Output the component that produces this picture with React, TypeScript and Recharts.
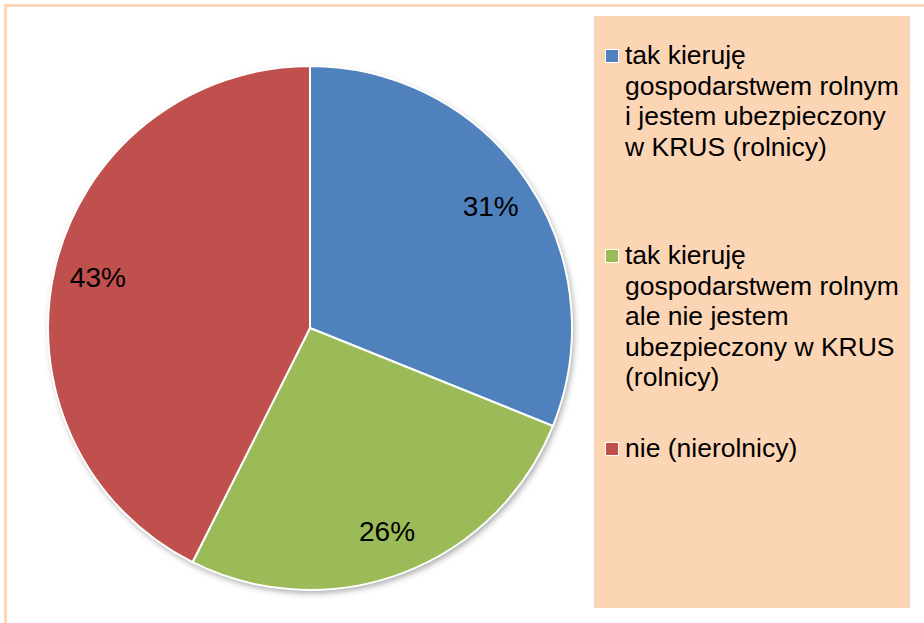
import React from 'react';
import { PieChart, Pie, Cell, Legend } from 'recharts';

const categories = [
  'tak kieruję\ngospodarstwem rolnym\ni jestem ubezpieczony\nw KRUS (rolnicy)',
  'tak kieruję\ngospodarstwem rolnym\nale nie jestem\nubezpieczony w KRUS\n(rolnicy)',
  'nie (nierolnicy)',
];
const shares = [31.1, 26.3, 42.6];
const colors = ['#4F81BD', '#9BBB59', '#C0504D'];

const data = categories.map((name, i) => ({ name, value: shares[i] }));

const FONT = '"Liberation Sans", Arial, sans-serif';
const RAD = Math.PI / 180;

const renderLabel = (props: any) => {
  const { cx, cy, midAngle, percent } = props;
  const r = 218;
  const x = cx + r * Math.cos(-midAngle * RAD);
  const y = cy + r * Math.sin(-midAngle * RAD);
  return (
    <text x={x} y={y} textAnchor="middle" dominantBaseline="central" fill="#000" fontSize={28} fontFamily={FONT}>
      {Math.round(percent * 100)}%
    </text>
  );
};

const legendTops = [24, 224, 417];

const renderLegend = () => (
  <div style={{ position: 'relative', width: 316, height: 592, background: '#FCD5B5' }}>
    {categories.map((name, i) => (
      <div key={i} style={{ position: 'absolute', left: 0, top: legendTops[i], width: 316 }}>
        <div
          style={{
            position: 'absolute',
            left: 11,
            top: 9,
            width: 12,
            height: 12,
            background: colors[i],
            border: '1px solid #fff',
          }}
        />
        <div
          style={{
            position: 'absolute',
            left: 31,
            top: 0,
            whiteSpace: 'pre',
            fontFamily: FONT,
            fontSize: 26.5,
            lineHeight: '30.5px',
            color: '#000',
          }}
        >
          {name}
        </div>
      </div>
    ))}
  </div>
);

export default function App() {
  return (
    <div style={{ position: 'relative', width: 924, height: 623, overflow: 'hidden', background: '#fff' }}>
      <style>{'body{margin:0} .pie-shadow{filter:blur(3px);}'}</style>
      <div
        style={{
          position: 'absolute',
          left: 4,
          top: 4,
          width: 960,
          height: 660,
          border: '3px solid #FCD6B8',
          boxSizing: 'border-box',
        }}
      />
      <div style={{ position: 'absolute', left: 0, top: 0 }}>
        <PieChart width={924} height={623} margin={{ top: 0, right: 0, bottom: 0, left: 0 }}>
          <Pie
            data={data}
            dataKey="value"
            nameKey="name"
            cx={312}
            cy={331}
            outerRadius={262}
            startAngle={90}
            endAngle={-270}
            stroke="none"
            label={false}
            labelLine={false}
            legendType="none"
            isAnimationActive={false}
          >
            {data.map((d, i) => (
              <Cell key={i} fill="#000" fillOpacity={0.35} className="pie-shadow" />
            ))}
          </Pie>
          <Pie
            data={data}
            dataKey="value"
            nameKey="name"
            cx={310}
            cy={328}
            outerRadius={262}
            startAngle={90}
            endAngle={-270}
            stroke="#fff"
            strokeWidth={2}
            label={renderLabel}
            labelLine={false}
            isAnimationActive={false}
          >
            {data.map((d, i) => (
              <Cell key={i} fill={colors[i]} />
            ))}
          </Pie>
          <Legend
            layout="vertical"
            align="right"
            verticalAlign="middle"
            content={renderLegend}
            wrapperStyle={{ position: 'absolute', left: 594, top: 16, width: 316, height: 592 }}
          />
        </PieChart>
      </div>
    </div>
  );
}
